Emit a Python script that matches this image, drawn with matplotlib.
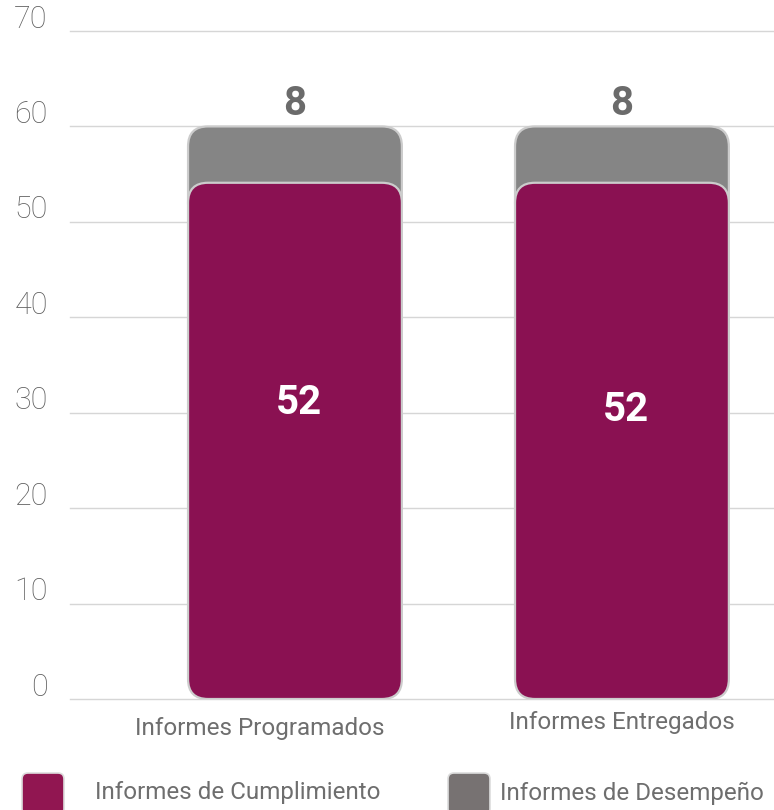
import matplotlib
matplotlib.use("Agg")
from matplotlib import pyplot as plt
from matplotlib.patches import FancyBboxPatch
from matplotlib.transforms import IdentityTransform, ScaledTranslation

# data
categories = ["Informes Programados", "Informes Entregados"]
cumplimiento = [52, 52]
desempeno = [8, 8]
series_names = ["Informes de Cumplimiento", "Informes de Desempeño"]
y_ticks = [0, 10, 20, 30, 40, 50, 60, 70]

# style
purple = "#8a1152"
gray = "#858585"
legend_colors = ["#911651", "#777272"]
edge = "#cccccc"
text_gray = "#6e6e6e"
plt.rcParams["font.family"] = ["Roboto", "DejaVu Sans"]

W, H, DPI = 774, 810, 100
fig = plt.figure(figsize=(W / DPI, H / DPI), dpi=DPI)
ax = fig.add_axes([70 / W, (H - 699) / H, 1 - 70 / W, (699 - 31) / H])

x_pos = [0, 1]
bar_w = 0.654
ax.set_xlim(-0.688, 1.465)
ax.set_ylim(0, 70)

# pixels per data unit, used to keep the rounded corners circular
px_x = ax.get_position().width * W / (1.465 + 0.688)
px_y = ax.get_position().height * H / 70
radius_px = 20
r_x = radius_px / px_x
r_y = radius_px / px_y
aspect = r_y / r_x


def rounded_bar(x, bottom, top, color):
    p = FancyBboxPatch((x - bar_w / 2, bottom), bar_w, top - bottom,
                       boxstyle="round,pad=0,rounding_size=%f" % r_x,
                       mutation_aspect=aspect, facecolor=color,
                       edgecolor=edge, linewidth=1.6, zorder=3)
    ax.add_patch(p)


for i, x in enumerate(x_pos):
    base = cumplimiento[i]
    total = base + desempeno[i]
    # upper segment sits behind, lower one overlaps it by the corner radius
    rounded_bar(x, base - r_y, total, gray)
    rounded_bar(x, 0, base + r_y, purple)

    ax.annotate(str(desempeno[i]), (x, total), xytext=(0, 8.5),
                textcoords="offset points", ha="center", va="baseline",
                fontsize=29, fontweight="bold", color="#6b6b6b")

label_y = [31.0, 30.3]
for i, x in enumerate(x_pos):
    ax.text(x + 0.012, label_y[i], str(cumplimiento[i]), ha="center",
            va="center", fontsize=29, fontweight="bold", color="white",
            zorder=5)

# grid
for v in y_ticks:
    ax.axhline(v, color="#d6d6d6", linewidth=1.0, zorder=1, clip_on=False)

for s in ax.spines.values():
    s.set_visible(False)
ax.set_xticks([])
ax.set_yticks([])

# y tick labels, sitting just above their grid lines
off = ScaledTranslation(-16 / 72, 2.5 / 72, fig.dpi_scale_trans)
for v in y_ticks:
    ax.text(0, v, str(v), transform=ax.get_yaxis_transform() + off,
            ha="right", va="baseline", fontsize=22, fontweight="light",
            color="#5f5f5f")

# category labels
cat_x = [-0.107, 1.0]
cat_off = [-29, -23]
for i, name in enumerate(categories):
    ax.annotate(name, (cat_x[i], 0), xytext=(0, cat_off[i] * 72 / DPI),
                textcoords="offset points", ha="center", va="center",
                fontsize=17.5, color=text_gray, annotation_clip=False)

# legend drawn in pixel coordinates
leg_x = [22, 448]
leg_text_x = [95, 500]
for i, name in enumerate(series_names):
    p = FancyBboxPatch((leg_x[i], H - 815), 42, 42,
                       boxstyle="round,pad=0,rounding_size=6",
                       transform=IdentityTransform(), facecolor=legend_colors[i],
                       edgecolor="#dddddd", linewidth=1.2)
    fig.patches.append(p)
    fig.text(leg_text_x[i] / W, (H - 793) / H, name, ha="left", va="center",
             fontsize=17.4, color=text_gray)

fig.savefig("out.png", dpi=DPI)
